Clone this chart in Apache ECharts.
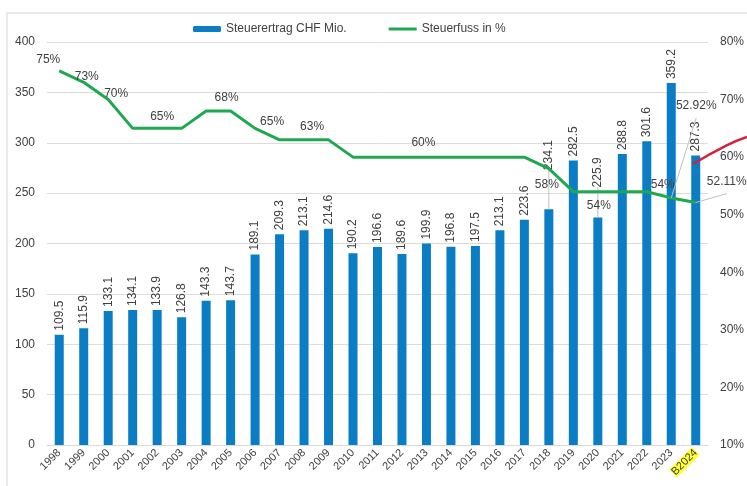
<!DOCTYPE html>
<html>
<head>
<meta charset="utf-8">
<script src="https://cdn.jsdelivr.net/npm/echarts@6/dist/echarts.min.js"></script>
<style>
  html, body { margin: 0; padding: 0; background: #fff; }
  #chart { width: 747px; height: 486px; }
</style>
</head>
<body>
<div id="chart"></div>
<script>
var years = ["1998", "1999", "2000", "2001", "2002", "2003", "2004", "2005", "2006", "2007",
  "2008", "2009", "2010", "2011", "2012", "2013", "2014", "2015", "2016", "2017",
  "2018", "2019", "2020", "2021", "2022", "2023", "B2024"];
var ertrag = [109.5, 115.9, 133.1, 134.1, 133.9, 126.8, 143.3, 143.7, 189.1, 209.3,
  213.1, 214.6, 190.2, 196.6, 189.6, 199.9, 196.8, 197.5, 213.1, 223.6,
  234.1, 282.5, 225.9, 288.8, 301.6, 359.2, 287.3];
var steuerfuss = [75, 73, 70, 65, 65, 65, 68, 68, 65, 63,
  63, 63, 60, 60, 60, 60, 60, 60, 60, 60,
  58, 54, 54, 54, 54, 52.92, 52.11];
var leftTicks = [0, 400, 50];
var rightTicks = [10, 80, 10];
// roter Trend rechts (Position in Kategorien-Einheiten, Wert in %)
var trendX = [25.85, 27.2, 28.05];
var trendY = [58.8, 62.0, 63.5];

// welche Punkte der Linie beschriftet sind und wo
var labelAt = {
  0: { position: "top", offset: [-11, 0] },
  1: { position: "top", offset: [3, 5] },
  2: { position: "top", offset: [8, 5] },
  4: { position: "top", offset: [5, -1] },
  7: { position: "top", offset: [-4, -2] },
  8: { position: "top", offset: [17, 4] },
  10: { position: "top", offset: [8, -2] },
  15: { position: "top", offset: [-3, -3] },
  20: { position: "bottom", offset: [-2, 5] },
  22: { position: "bottom", offset: [1, 3] },
  24: { position: "top", offset: [16, 4] },
  25: { position: "top", offset: [25, -81], guide: true },
  26: { position: "top", offset: [31, -10], guide: true }
};
// Balkenbeschriftungen, die nach oben geschoben sind
var barLabelLift = { 20: 39, 22: 30 };

var txt = "#404040";
var font = "Liberation Sans, Arial, sans-serif";

var catData = years.map(function (y) {
  if (y === "B2024") return { value: y, textStyle: { backgroundColor: "#ffff33" } };
  return y;
});

var barData = ertrag.map(function (v, i) {
  if (!barLabelLift[i]) return v;
  return {
    value: v,
    label: { distance: barLabelLift[i] },
    labelLine: { show: true, lineStyle: { color: "#bfbfbf", width: 1 } }
  };
});

var lineData = steuerfuss.map(function (v, i) {
  var l = labelAt[i];
  if (!l) return v;
  var item = {
    value: v,
    label: { show: true, position: l.position, offset: l.offset }
  };
  if (l.guide) {
    item.labelLine = { show: true, lineStyle: { color: "#bfbfbf", width: 1 } };
  }
  return item;
});

var trendData = trendX.map(function (x, i) { return [x, trendY[i]]; });

var myChart = echarts.init(document.getElementById("chart"));
var option = {
  animation: false,
  textStyle: { fontFamily: font },
  // Rahmen des Diagramms (nur oben/links sichtbar)
  graphic: [{
    type: "rect",
    z: -1,
    shape: { x: 7, y: 13, width: 800, height: 520 },
    style: { fill: "none", stroke: "#e4e4e4", lineWidth: 1.5 }
  }],
  legend: {
    top: 18,
    left: 188,
    itemWidth: 28,
    itemHeight: 6,
    itemGap: 42,
    textStyle: { color: txt, fontSize: 12, fontFamily: font },
    data: [
      "Steuerertrag CHF Mio.",
      { name: "Steuerfuss in %", icon: "path://M0,0L28,0L28,3L0,3Z" }
    ]
  },
  grid: [
    { left: 47, right: 38, top: 42, bottom: 41 },
    // zweites Raster, gleiche Skala, reicht bis zum rechten Rand (für den roten Trend)
    { left: 47, right: 0, top: 42, bottom: 41 }
  ],
  xAxis: [
    {
      type: "category",
      gridIndex: 0,
      data: catData,
      axisLine: { lineStyle: { color: "#d9d9d9" } },
      axisTick: { show: false },
      axisLabel: { color: txt, fontSize: 11, rotate: 45, margin: 6, interval: 0, fontFamily: font }
    },
    {
      type: "value",
      gridIndex: 1,
      show: false,
      min: -0.5,
      max: -0.5 + years.length * 700 / 662
    }
  ],
  yAxis: [
    {
      type: "value",
      min: leftTicks[0],
      max: leftTicks[1],
      interval: leftTicks[2],
      axisLine: { show: false },
      axisTick: { show: false },
      splitLine: { lineStyle: { color: "#dcdcdc" } },
      axisLabel: { color: txt, fontSize: 12, margin: 12, fontFamily: font }
    },
    {
      type: "value",
      min: rightTicks[0],
      max: rightTicks[1],
      interval: rightTicks[2],
      axisLine: { show: false },
      axisTick: { show: false },
      splitLine: { show: false },
      axisLabel: { color: txt, fontSize: 12, margin: 12, formatter: "{value}%", fontFamily: font }
    },
    {
      type: "value",
      gridIndex: 1,
      show: false,
      min: rightTicks[0],
      max: rightTicks[1]
    }
  ],
  series: [
    {
      name: "Steuerertrag CHF Mio.",
      type: "bar",
      data: barData,
      barWidth: 9,
      itemStyle: { color: "#0b7dc4" },
      label: {
        show: true,
        position: "top",
        rotate: 90,
        align: "left",
        verticalAlign: "middle",
        distance: 4,
        color: txt,
        fontSize: 12,
        fontFamily: font
      }
    },
    {
      name: "Steuerfuss in %",
      type: "line",
      yAxisIndex: 1,
      data: lineData,
      symbol: "circle",
      symbolSize: 0,
      showSymbol: true,
      z: 3,
      lineStyle: { color: "#1fa84f", width: 3 },
      itemStyle: { color: "#1fa84f" },
      label: {
        show: false,
        color: txt,
        fontSize: 12,
        fontFamily: font,
        formatter: function (p) { return p.value + "%"; }
      }
    },
    {
      name: "Trend",
      type: "line",
      xAxisIndex: 1,
      yAxisIndex: 2,
      data: trendData,
      smooth: true,
      symbol: "none",
      z: 4,
      lineStyle: { color: "#d2233c", width: 2.5 }
    }
  ]
};
myChart.setOption(option);
</script>
</body>
</html>
